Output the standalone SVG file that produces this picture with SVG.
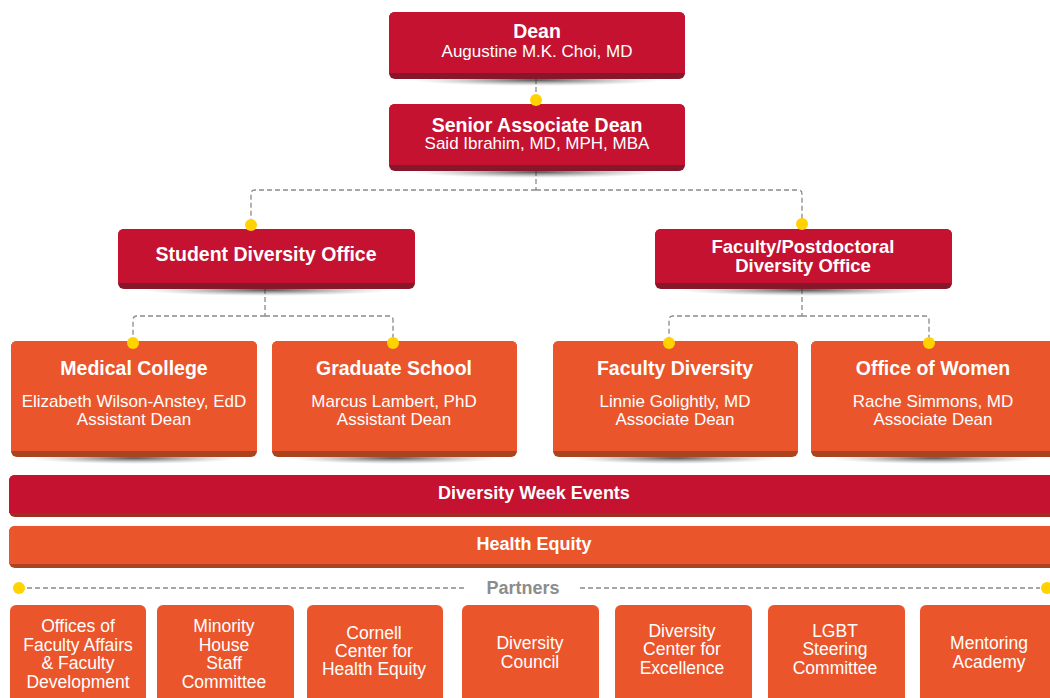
<svg xmlns="http://www.w3.org/2000/svg" width="1050" height="698" viewBox="0 0 1050 698">
<defs>
<radialGradient id="sh" cx="0.5" cy="0.5" r="0.5">
<stop offset="0" stop-color="#2a2a2a" stop-opacity="0.8"/>
<stop offset="0.6" stop-color="#555" stop-opacity="0.3"/>
<stop offset="1" stop-color="#888" stop-opacity="0"/>
</radialGradient>
</defs>
<style>
text{font-family:"Liberation Sans",Arial,Helvetica,sans-serif;fill:#fff;text-anchor:middle}
.t{font-weight:bold;font-size:19.5px}
.t2{font-weight:bold;font-size:18.5px}
.s{font-size:17px}
.b{font-weight:bold;font-size:18px}
.p{font-size:17.5px}
.red{fill:#C41230}
.redb{fill:#86172B}
.or{fill:#EA552B}
.orb{fill:#A9441F}
.bar1b{fill:#9E2F25}
.shadow{fill:url(#sh)}
.con{fill:none;stroke:#8a8a8a;stroke-width:1.3;stroke-dasharray:5 3}
.dot{fill:#FFD200}
.ptxt{font-weight:bold;font-size:18px;fill:#8c8c8c}
</style>
<rect width="1050" height="698" fill="#fff"/>

<g id="connectors">
<path class="con" d="M536 79 V100"/>
<path class="con" d="M536 171 V190 M536 190 H255 Q251 190 251 194 V225 M536 190 H798 Q802 190 802 194 V224"/>
<path class="con" d="M265 289 V316 M265 316 H137 Q133 316 133 320 V343 M265 316 H389 Q393 316 393 320 V343"/>
<path class="con" d="M802 289 V316 M802 316 H673 Q669 316 669 320 V343 M802 316 H925 Q929 316 929 320 V343"/>
<path class="con" d="M27 588 H467 M580 588 H1040"/>
</g>

<g id="dean">
<ellipse class="shadow" cx="537" cy="80" rx="125" ry="6"/>
<rect class="redb" x="389" y="12" width="296" height="67" rx="6"/>
<path class="red" d="M395 12 H679 Q685 12 685 18 V73 H389 V18 Q389 12 395 12 Z"/>
<text class="t" x="537" y="38">Dean</text>
<text class="s" x="537" y="57">Augustine M.K. Choi, MD</text>
</g>

<g id="senior">
<ellipse class="shadow" cx="537" cy="172" rx="125" ry="6"/>
<rect class="redb" x="389" y="104" width="296" height="67" rx="6"/>
<path class="red" d="M395 104 H679 Q685 104 685 110 V165 H389 V110 Q389 104 395 104 Z"/>
<text class="t" x="537" y="132">Senior Associate Dean</text>
<text class="s" x="537" y="149">Said Ibrahim, MD, MPH, MBA</text>
</g>

<g id="student-office">
<ellipse class="shadow" cx="267" cy="290" rx="125" ry="6"/>
<rect class="redb" x="118" y="229" width="297" height="60" rx="6"/>
<path class="red" d="M124 229 H409 Q415 229 415 235 V283 H118 V235 Q118 229 124 229 Z"/>
<text class="t" x="266" y="261">Student Diversity Office</text>
</g>

<g id="faculty-office">
<ellipse class="shadow" cx="804" cy="290" rx="125" ry="6"/>
<rect class="redb" x="655" y="229" width="297" height="60" rx="6"/>
<path class="red" d="M661 229 H946 Q952 229 952 235 V283 H655 V235 Q655 229 661 229 Z"/>
<text class="t2" x="803" y="253">Faculty/Postdoctoral</text>
<text class="t2" x="803" y="272">Diversity Office</text>
</g>

<g id="medical-college">
<ellipse class="shadow" cx="134" cy="458" rx="105" ry="6"/>
<rect class="orb" x="11" y="341" width="246" height="116" rx="6"/>
<path class="or" d="M17 341 H251 Q257 341 257 347 V451 H11 V347 Q11 341 17 341 Z"/>
<text class="t" x="134" y="375">Medical College</text>
<text class="s" x="134" y="407">Elizabeth Wilson-Anstey, EdD</text>
<text class="s" x="134" y="425">Assistant Dean</text>
</g>

<g id="graduate-school">
<ellipse class="shadow" cx="394" cy="458" rx="105" ry="6"/>
<rect class="orb" x="272" y="341" width="245" height="116" rx="6"/>
<path class="or" d="M278 341 H511 Q517 341 517 347 V451 H272 V347 Q272 341 278 341 Z"/>
<text class="t" x="394" y="375">Graduate School</text>
<text class="s" x="394" y="407">Marcus Lambert, PhD</text>
<text class="s" x="394" y="425">Assistant Dean</text>
</g>

<g id="faculty-diversity">
<ellipse class="shadow" cx="675" cy="458" rx="105" ry="6"/>
<rect class="orb" x="553" y="341" width="245" height="116" rx="6"/>
<path class="or" d="M559 341 H792 Q798 341 798 347 V451 H553 V347 Q553 341 559 341 Z"/>
<text class="t" x="675" y="375">Faculty Diversity</text>
<text class="s" x="675" y="407">Linnie Golightly, MD</text>
<text class="s" x="675" y="425">Associate Dean</text>
</g>

<g id="office-of-women">
<ellipse class="shadow" cx="934" cy="458" rx="105" ry="6"/>
<rect class="orb" x="811" y="341" width="246" height="116" rx="6"/>
<path class="or" d="M817 341 H1051 Q1057 341 1057 347 V451 H811 V347 Q811 341 817 341 Z"/>
<text class="t" x="933" y="375">Office of Women</text>
<text class="s" x="933" y="407">Rache Simmons, MD</text>
<text class="s" x="933" y="425">Associate Dean</text>
</g>

<g id="dots">
<circle class="dot" cx="536" cy="100" r="6"/>
<circle class="dot" cx="251" cy="225" r="6"/>
<circle class="dot" cx="802" cy="224" r="6"/>
<circle class="dot" cx="133" cy="343" r="6"/>
<circle class="dot" cx="393" cy="343" r="6"/>
<circle class="dot" cx="669" cy="343" r="6"/>
<circle class="dot" cx="929" cy="343" r="6"/>
<circle class="dot" cx="19" cy="588" r="6"/>
<circle class="dot" cx="1047" cy="588" r="6"/>
</g>

<g id="diversity-week">
<rect class="bar1b" x="9" y="475" width="1060" height="42" rx="6"/>
<path class="red" d="M15 475 H1063 Q1069 475 1069 481 V513 H9 V481 Q9 475 15 475 Z"/>
<text class="b" x="534" y="499">Diversity Week Events</text>
</g>

<g id="health-equity">
<rect class="orb" x="9" y="526" width="1060" height="42" rx="6"/>
<path class="or" d="M15 526 H1063 Q1069 526 1069 532 V564 H9 V532 Q9 526 15 526 Z"/>
<text class="b" x="534" y="550">Health Equity</text>
</g>

<g id="partners-label">
<text class="ptxt" x="523" y="594">Partners</text>
</g>

<g id="p1">
<rect class="or" x="10" y="605" width="136" height="110" rx="6"/>
<text class="p" x="78" y="632">Offices of</text>
<text class="p" x="78" y="651">Faculty Affairs</text>
<text class="p" x="78" y="669">&amp; Faculty</text>
<text class="p" x="78" y="688">Development</text>
</g>
<g id="p2">
<rect class="or" x="157" y="605" width="137" height="110" rx="6"/>
<text class="p" x="224" y="632">Minority</text>
<text class="p" x="224" y="651">House</text>
<text class="p" x="224" y="669">Staff</text>
<text class="p" x="224" y="688">Committee</text>
</g>
<g id="p3">
<rect class="or" x="307" y="605" width="136" height="110" rx="6"/>
<text class="p" x="374" y="639">Cornell</text>
<text class="p" x="374" y="657">Center for</text>
<text class="p" x="374" y="675">Health Equity</text>
</g>
<g id="p4">
<rect class="or" x="462" y="605" width="137" height="110" rx="6"/>
<text class="p" x="530" y="649">Diversity</text>
<text class="p" x="530" y="668">Council</text>
</g>
<g id="p5">
<rect class="or" x="615" y="605" width="137" height="110" rx="6"/>
<text class="p" x="682" y="637">Diversity</text>
<text class="p" x="682" y="655">Center for</text>
<text class="p" x="682" y="674">Excellence</text>
</g>
<g id="p6">
<rect class="or" x="768" y="605" width="137" height="110" rx="6"/>
<text class="p" x="835" y="637">LGBT</text>
<text class="p" x="835" y="655">Steering</text>
<text class="p" x="835" y="674">Committee</text>
</g>
<g id="p7">
<rect class="or" x="920" y="605" width="137" height="110" rx="6"/>
<text class="p" x="989" y="649">Mentoring</text>
<text class="p" x="989" y="668">Academy</text>
</g>
</svg>
